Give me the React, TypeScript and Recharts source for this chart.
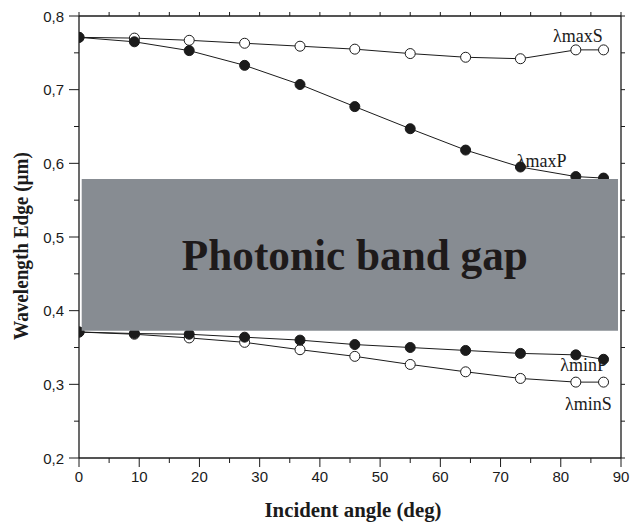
import React from "react";
import {
  LineChart,
  Line,
  XAxis,
  YAxis,
  ReferenceArea,
  ReferenceDot,
} from "recharts";

// incident angles (deg)
const angles = [0, 9.2, 18.3, 27.5, 36.7, 45.8, 55, 64.2, 73.3, 82.5, 87.1];
// band edges (µm)
const maxS = [0.771, 0.77, 0.767, 0.763, 0.759, 0.755, 0.749, 0.744, 0.742, 0.754, 0.754];
const maxP = [0.771, 0.765, 0.753, 0.733, 0.707, 0.677, 0.647, 0.618, 0.595, 0.582, 0.58];
const minP = [0.371, 0.369, 0.368, 0.364, 0.36, 0.354, 0.35, 0.346, 0.342, 0.34, 0.334];
const minS = [0.371, 0.368, 0.363, 0.357, 0.347, 0.338, 0.327, 0.317, 0.308, 0.303, 0.303];

// common gap
const gapLow = 0.3728;
const gapHigh = 0.5787;

const xTicks = [0, 5, 10, 15, 20, 25, 30, 35, 40, 45, 50, 55, 60, 65, 70, 75, 80, 85, 90];
const yTicks = [0.2, 0.25, 0.3, 0.35, 0.4, 0.45, 0.5, 0.55, 0.6, 0.65, 0.7, 0.75, 0.8];

const data = angles.map((a, i) => ({
  angle: a,
  maxS: maxS[i],
  maxP: maxP[i],
  minP: minP[i],
  minS: minS[i],
}));

const INK = "#1b1b1b";
const SANS = "'Liberation Sans', Arial, sans-serif";
const SERIF = "'Liberation Serif', 'Times New Roman', serif";

const isMajorY = (v: number) => Math.abs(v * 10 - Math.round(v * 10)) < 1e-6;

function BottomTick(props: any) {
  const { x, y, payload } = props;
  const v = payload.value;
  const major = v % 10 === 0;
  return (
    <g>
      <line x1={x} y1={y} x2={x} y2={y + (major ? 9 : 5)} stroke={INK} />
      {major && (
        <text x={x} y={y + 24} textAnchor="middle" fontFamily={SANS} fontSize={15} fill={INK}>
          {v}
        </text>
      )}
    </g>
  );
}

function TopTick(props: any) {
  const { x, y } = props;
  return <line x1={x} y1={y} x2={x} y2={y - 4} stroke={INK} />;
}

function LeftTick(props: any) {
  const { x, y, payload } = props;
  const v = payload.value;
  const major = isMajorY(v);
  return (
    <g>
      <line x1={x} y1={y} x2={x - (major ? 10 : 5)} y2={y} stroke={INK} />
      {major && (
        <text x={x - 15} y={y + 5.5} textAnchor="end" fontFamily={SANS} fontSize={15} fill={INK}>
          {v.toFixed(1).replace(".", ",")}
        </text>
      )}
    </g>
  );
}

function RightTick(props: any) {
  const { x, y } = props;
  return <line x1={x} y1={y} x2={x + 4} y2={y} stroke={INK} />;
}

const tag = (text: string) => (p: any) =>
  (
    <text x={p.viewBox.x} y={p.viewBox.y} fontFamily={SERIF} fontSize={18} fill={INK}>
      {text}
    </text>
  );

export default function App() {
  return (
    <div style={{ position: "absolute", left: 0, top: 0 }}>
      <LineChart
        width={639}
        height={522}
        data={data}
        margin={{ top: 0, right: 0, bottom: 0, left: 0 }}
        style={{ background: "#fff" }}
      >
        <XAxis
          dataKey="angle"
          type="number"
          domain={[0, 90]}
          ticks={xTicks}
          interval={0}
          allowDataOverflow
          height={64}
          tickSize={0}
          tickMargin={0}
          tickLine={false}
          axisLine={{ stroke: INK, strokeWidth: 1.3 }}
          tick={<BottomTick />}
          label={(p: any) => (
            <text
              x={p.viewBox.x + p.viewBox.width / 2 + 3}
              y={p.viewBox.y + 59}
              textAnchor="middle"
              fontFamily={SERIF}
              fontWeight="bold"
              fontSize={20}
              textLength={177}
              lengthAdjust="spacingAndGlyphs"
              fill={INK}
            >
              Incident angle (deg)
            </text>
          )}
        />
        <XAxis
          xAxisId="top"
          orientation="top"
          dataKey="angle"
          type="number"
          domain={[0, 90]}
          ticks={xTicks}
          interval={0}
          allowDataOverflow
          height={16}
          tickSize={0}
          tickMargin={0}
          tickLine={false}
          axisLine={{ stroke: INK, strokeWidth: 1.3 }}
          tick={<TopTick />}
        />
        <YAxis
          type="number"
          domain={[0.2, 0.8]}
          ticks={yTicks}
          interval={0}
          allowDataOverflow
          width={79}
          tickSize={0}
          tickMargin={0}
          tickLine={false}
          axisLine={{ stroke: INK, strokeWidth: 1.3 }}
          tick={<LeftTick />}
          label={() => {
            const cx = 28;
            const cy = 246;
            return (
              <text
                x={cx}
                y={cy}
                transform={`rotate(-90 ${cx} ${cy})`}
                textAnchor="middle"
                fontFamily={SERIF}
                fontWeight="bold"
                fontSize={20}
                textLength={188}
                lengthAdjust="spacingAndGlyphs"
                fill={INK}
              >
                Wavelength Edge (µm)
              </text>
            );
          }}
        />
        <YAxis
          yAxisId="right"
          orientation="right"
          type="number"
          domain={[0.2, 0.8]}
          ticks={yTicks}
          interval={0}
          allowDataOverflow
          width={18}
          tickSize={0}
          tickMargin={0}
          tickLine={false}
          axisLine={{ stroke: INK, strokeWidth: 1.3 }}
          tick={<RightTick />}
        />

        <Line
          dataKey="maxS"
          stroke={INK}
          strokeWidth={1}
          dot={{ r: 5, fill: "#fff", stroke: INK, strokeWidth: 1 }}
          activeDot={false}
          isAnimationActive={false}
        />
        <Line
          dataKey="maxP"
          stroke={INK}
          strokeWidth={1}
          dot={{ r: 5, fill: INK, stroke: INK, strokeWidth: 1 }}
          activeDot={false}
          isAnimationActive={false}
        />
        <Line
          dataKey="minS"
          stroke={INK}
          strokeWidth={1}
          dot={{ r: 5, fill: "#fff", stroke: INK, strokeWidth: 1 }}
          activeDot={false}
          isAnimationActive={false}
        />
        <Line
          dataKey="minP"
          stroke={INK}
          strokeWidth={1}
          dot={{ r: 5, fill: INK, stroke: INK, strokeWidth: 1 }}
          activeDot={false}
          isAnimationActive={false}
        />

        <ReferenceArea
          x1={0.45}
          x2={89.5}
          y1={gapLow}
          y2={gapHigh}
          fill="#878c92"
          fillOpacity={1}
          stroke="none"
          zIndex={2000}
          label={(p: any) => (
            <text
              x={p.viewBox.x + p.viewBox.width / 2 + 5}
              y={p.viewBox.y + p.viewBox.height / 2 + 15}
              textAnchor="middle"
              fontFamily={SERIF}
              fontWeight="bold"
              fontSize={45}
              textLength={346}
              lengthAdjust="spacingAndGlyphs"
              fill="#1e1a1a"
            >
              Photonic band gap
            </text>
          )}
        />

        <ReferenceDot x={78.7} y={0.7647} r={0} stroke="none" fill="none" label={tag("λmaxS")} />
        <ReferenceDot x={72.7} y={0.595} r={0} stroke="none" fill="none" label={tag("λmaxP")} />
        <ReferenceDot x={79.9} y={0.3181} r={0} stroke="none" fill="none" label={tag("λminP")} />
        <ReferenceDot x={80.7} y={0.2652} r={0} stroke="none" fill="none" label={tag("λminS")} />
      </LineChart>
    </div>
  );
}
